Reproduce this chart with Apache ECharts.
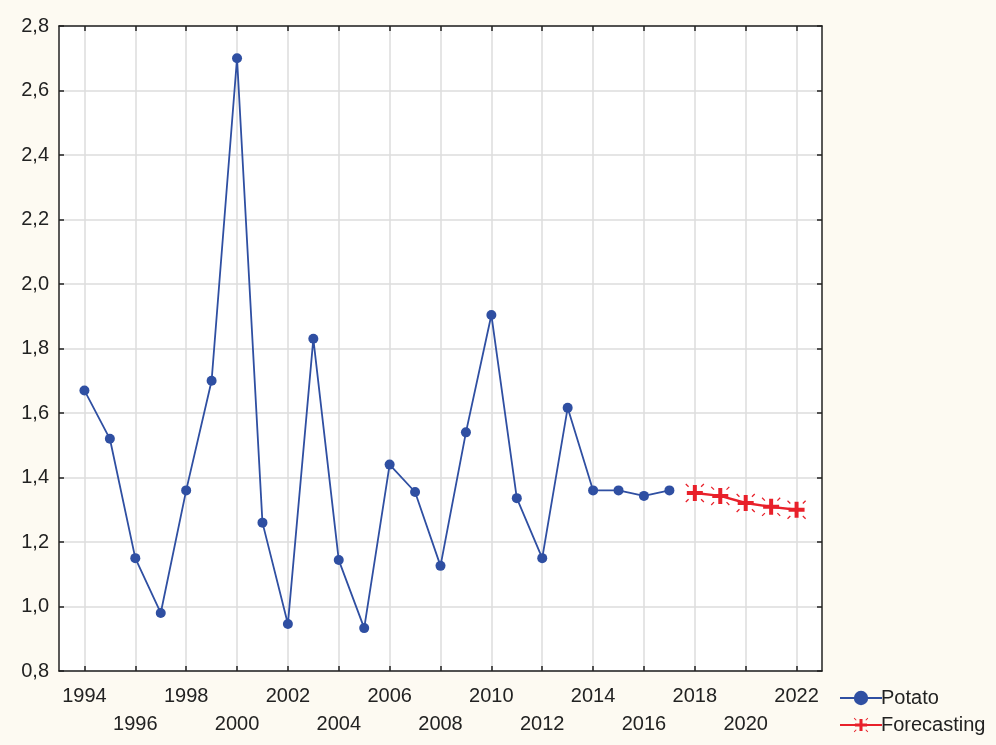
<!DOCTYPE html>
<html>
<head>
<meta charset="utf-8">
<script src="https://cdn.jsdelivr.net/npm/echarts@6/dist/echarts.min.js"></script>
<style>
  html, body { margin: 0; padding: 0; background: #fdfaf2; }
  #chart { width: 996px; height: 745px; }
</style>
</head>
<body>
<div id="chart"></div>
<script>
// observed years and values
const potatoYears = [1994, 1995, 1996, 1997, 1998, 1999, 2000, 2001, 2002, 2003, 2004, 2005,
  2006, 2007, 2008, 2009, 2010, 2011, 2012, 2013, 2014, 2015, 2016, 2017];
const potatoValues = [1.67, 1.52, 1.15, 0.98, 1.36, 1.70, 2.70, 1.26, 0.946, 1.83, 1.144, 0.933,
  1.44, 1.355, 1.126, 1.54, 1.904, 1.336, 1.15, 1.616, 1.36, 1.36, 1.343, 1.36];
// forecast
const forecastYears = [2018, 2019, 2020, 2021, 2022];
const forecastValues = [1.352, 1.343, 1.321, 1.309, 1.30];
// tick labels
const xLabelYears = [1994, 1996, 1998, 2000, 2002, 2004, 2006, 2008, 2010, 2012, 2014, 2016, 2018, 2020, 2022];

const zip = (xs, ys) => xs.map((x, i) => [x, ys[i]]);

// star marker: thick plus with little diagonal flashes
const starPath = 'path://M8,2L12,2L12,18L8,18Z M2,8L18,8L18,12L2,12Z' +
  ' M0.5,1.4L1.4,0.5L4.2,3.3L3.3,4.2Z M19.5,1.4L18.6,0.5L15.8,3.3L16.7,4.2Z' +
  ' M0.5,18.6L1.4,19.5L4.2,16.7L3.3,15.8Z M19.5,18.6L18.6,19.5L15.8,16.7L16.7,15.8Z';

const chart = echarts.init(document.getElementById('chart'));
const font = 'Liberation Sans, Arial, sans-serif';
const axisDark = '#222222';

const option = {
  backgroundColor: '#fdfaf2',
  animation: false,
  grid: {
    left: 59, top: 26, right: 174, bottom: 74,
    show: true, backgroundColor: '#ffffff', borderWidth: 0
  },
  xAxis: [
    {
      type: 'value', min: 1993, max: 2023,
      axisLine: { show: true, lineStyle: { color: axisDark, width: 1.5 } },
      axisTick: { show: true, inside: true, length: 5, customValues: xLabelYears,
        lineStyle: { color: axisDark, width: 1.5 } },
      splitLine: { show: true, lineStyle: { color: '#dcdcdc', width: 1.5 } },
      axisLabel: {
        customValues: xLabelYears,
        margin: 11, color: '#222', fontSize: 20, fontFamily: font, lineHeight: 28,
        formatter: v => ((v - 1994) % 4 === 2 ? '\n' + v : String(v))
      }
    },
    {
      type: 'value', min: 1993, max: 2023, position: 'top',
      axisLine: { show: true, lineStyle: { color: axisDark, width: 1.5 } },
      axisTick: { show: true, inside: true, length: 5, customValues: xLabelYears,
        lineStyle: { color: axisDark, width: 1.5 } },
      splitLine: { show: false }, axisLabel: { show: false }
    }
  ],
  yAxis: [
    {
      type: 'value', min: 0.8, max: 2.8, interval: 0.2,
      axisLine: { show: true, lineStyle: { color: axisDark, width: 1.5 } },
      axisTick: { show: true, inside: true, length: 5, lineStyle: { color: axisDark, width: 1.5 } },
      splitLine: { show: true, lineStyle: { color: '#dcdcdc', width: 1.5 } },
      axisLabel: {
        margin: 10, color: '#222', fontSize: 20, fontFamily: font,
        formatter: v => v.toFixed(1).replace('.', ',')
      }
    },
    {
      type: 'value', min: 0.8, max: 2.8, interval: 0.2, position: 'right',
      axisLine: { show: true, lineStyle: { color: axisDark, width: 1.5 } },
      axisTick: { show: true, inside: true, length: 5, lineStyle: { color: axisDark, width: 1.5 } },
      splitLine: { show: false }, axisLabel: { show: false }
    }
  ],
  legend: {
    orient: 'vertical', left: 834, top: 683, itemGap: 7,
    itemWidth: 42, itemHeight: 18,
    textStyle: { color: '#222', fontSize: 20, fontFamily: font, padding: [0, 0, 0, -6] },
    data: ['Potato', 'Forecasting']
  },
  series: [
    {
      name: 'Potato', type: 'line', data: zip(potatoYears, potatoValues),
      symbol: 'circle', symbolSize: 10,
      lineStyle: { color: '#2f4fa2', width: 1.8 },
      itemStyle: { color: '#2f4fa2' }
    },
    {
      name: 'Forecasting', type: 'line', data: zip(forecastYears, forecastValues),
      symbol: starPath, symbolSize: 19,
      lineStyle: { color: '#e8202a', width: 2.4 },
      itemStyle: { color: '#e8202a' }
    }
  ]
};
chart.setOption(option);
</script>
</body>
</html>
